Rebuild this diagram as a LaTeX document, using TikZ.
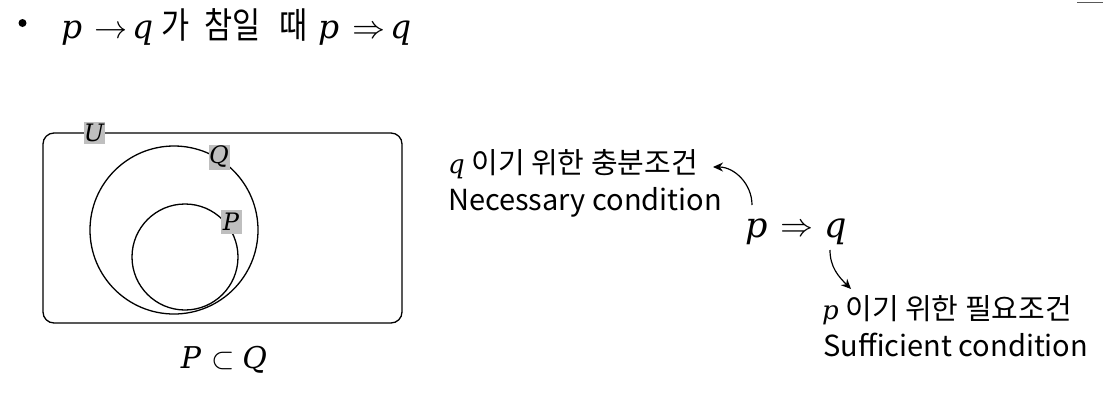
\documentclass[tikz,border=0pt]{standalone}
\usepackage{fontspec}
\usepackage{unicode-math}
\setmainfont{Noto Sans CJK KR}
\setmathfont{Latin Modern Math}
\newfontfamily\mvfont{DejaVu Serif}
\newfontfamily\krt{Noto Sans CJK KR}[FakeStretch=0.85]
\newcommand\mv[1]{{\mvfont\itshape #1}}
\usetikzlibrary{arrows.meta}
\begin{document}
\begin{tikzpicture}[x=1pt,y=-1pt,
  txt/.style={anchor=west,inner sep=0pt,font=\fontsize{29}{34}\selectfont},
  lbl/.style={fill=gray!50,inner sep=0pt,minimum width=21pt,minimum height=22pt,font=\fontsize{24}{24}\selectfont},
  venn/.style={draw,line width=1.3pt,circle,inner sep=0pt},
  big/.style={inner sep=0pt,anchor=base,font=\fontsize{35}{35}\selectfont},
  conn/.style={line width=1.2pt,-{Stealth[length=10pt,width=9pt]}}]
\useasboundingbox (0,0) rectangle (1103,408);
\draw[gray!70!black,line width=1.5pt] (1077,2.5) -- (1103,2.5);
% title
\node[circle,fill,inner sep=0pt,minimum size=8pt] (bul) at (22.5,23) {};
\node[anchor=base west,inner sep=0pt,font=\fontsize{33}{36}\selectfont] (title) at (61,38)
  {\makebox[33pt][l]{\mv{p}}\makebox[38pt][l]{$\rightarrow$}\makebox[29pt][l]{\mv{q}}{\krt\fontsize{36}{36}\selectfont\makebox[43pt][l]{가}\makebox[75pt][l]{참일}\makebox[39pt][l]{때}}\makebox[34pt][l]{\mv{p}}\makebox[38pt][l]{$\Rightarrow$}\mv{q}};
% Venn
\node[draw,line width=1.3pt,rounded corners=11pt,minimum width=359pt,minimum height=190pt] (U) at (222.5,228) {};
\node[venn,minimum size=168pt] (Q) at (174,230) {};
\node[venn,minimum size=106pt] (P) at (185,257) {};
\node[lbl] (Ul) at (94,133) {\mv{U}};
\node[lbl,minimum height=25pt] (Ql) at (219,157) {\mv{Q}};
\node[lbl,minimum height=24pt] (Pl) at (231,222) {\mv{P}};
\node[inner sep=0pt,anchor=base,font=\fontsize{30}{30}\selectfont] (sub) at (224,368) {\mv{P}\hspace{10pt}$\subset$\hspace{8pt}\mv{Q}};
% implication
\node[big] (pp) at (757,237) {\mv{p}};
\node[big,font=\fontsize{33}{33}\selectfont] (ar) at (797,236) {$\Rightarrow$};
\node[big] (qq) at (836,237) {\mv{q}};
\node[txt] (n1) at (448,164) {{\fontsize{26}{26}\selectfont\mv{q}} 이기 위한 충분조건};
\node[txt] (n2) at (448,202) {Necessary condition};
\node[txt] (s1) at (822,310) {{\fontsize{26}{26}\selectfont\mv{p}} 이기 위한 필요조건};
\node[txt] (s2) at (823,345) {Sufficient condition};
\coordinate (ns) at (752,205);
\coordinate (nt) at (713,167);
\coordinate (ss) at (830,250);
\coordinate (st) at (851,289);
\draw[conn] (ns) to[out=90,in=0] (nt);
\draw[conn] (ss) to[out=-90,in=135] (st);
\end{tikzpicture}
\end{document}
